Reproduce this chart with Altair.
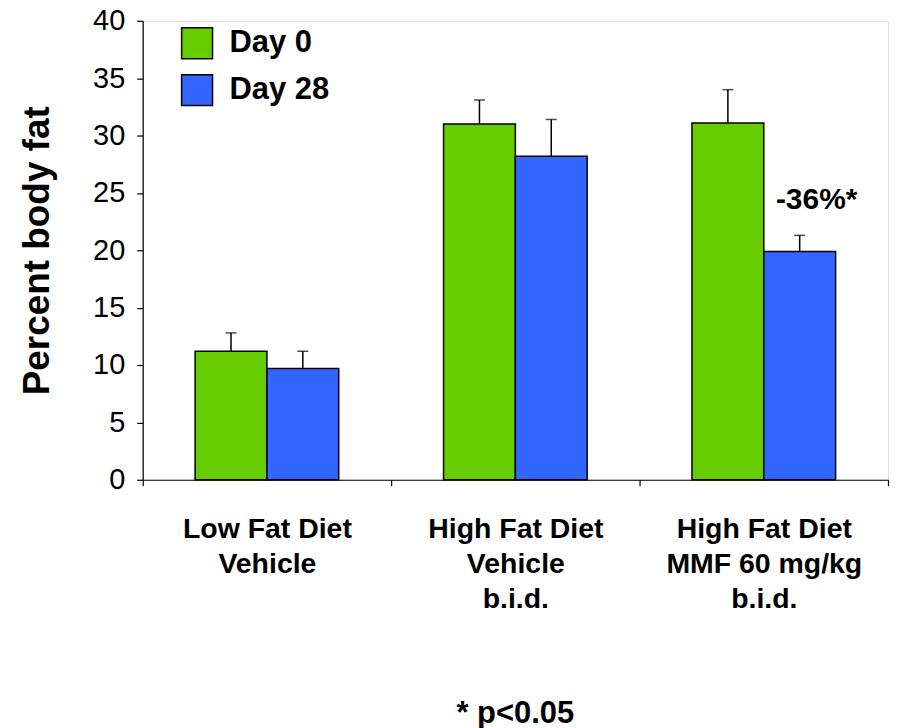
import altair as alt
import pandas as pd

groups = ["Low Fat Diet|Vehicle", "High Fat Diet|Vehicle|b.i.d.", "High Fat Diet|MMF 60 mg/kg|b.i.d."]
series = ["Day 0", "Day 28"]
day0 = [11.2, 31.0, 31.1]
day28 = [9.7, 28.2, 19.9]
day0_err = [1.6, 2.1, 2.9]
day28_err = [1.5, 3.2, 1.4]
annot_day28 = ["", "", "-36%*"]
colors = ["#66CC00", "#3366FF"]
footnote = "* p<0.05"

rows = []
for i, g in enumerate(groups):
    rows.append({"group": g, "series": series[0], "value": day0[i], "top": day0[i] + day0_err[i], "annot": ""})
    rows.append({"group": g, "series": series[1], "value": day28[i], "top": day28[i] + day28_err[i], "annot": annot_day28[i]})
df = pd.DataFrame(rows)

FONT = "Liberation Sans"

x_enc = alt.X(
    "group:N", sort=groups,
    scale=alt.Scale(paddingInner=0, paddingOuter=0),
    axis=alt.Axis(
        title=None, labelExpr="split(datum.label, '|')", tickBand="extent",
        labelAngle=0, labelFont=FONT, labelFontSize=28.5, labelFontWeight="bold",
        labelColor="black", labelLineHeight=35, labelPadding=29, labelBaseline="top",
        labelLimit=400,
        tickSize=6, tickColor="black", domainColor="black", tickWidth=1.2, domainWidth=1.2,
    ),
)
xo_enc = alt.XOffset("series:N", sort=series, scale=alt.Scale(paddingOuter=0.73, paddingInner=0))
y_scale = alt.Scale(domain=[0, 40])
y_axis = alt.Axis(
    title="Percent body fat", values=list(range(0, 41, 5)), grid=False,
    labelFont=FONT, labelFontSize=29, labelColor="black", labelPadding=12,
    titleFont=FONT, titleFontSize=37, titleFontWeight="bold", titleColor="black", titlePadding=36,
    tickSize=6, tickColor="black", domainColor="black", tickWidth=1.2, domainWidth=1.2,
)

base = alt.Chart(df)

bars = base.mark_bar(stroke="black", strokeWidth=1.5).encode(
    x=x_enc, xOffset=xo_enc,
    y=alt.Y("value:Q", scale=y_scale, axis=y_axis),
    color=alt.Color(
        "series:N", sort=series, scale=alt.Scale(domain=series, range=colors),
        legend=alt.Legend(
            title=None, orient="none", legendX=38, legendY=6, padding=0,
            symbolType="square", symbolSize=960,
            symbolStrokeColor="black", symbolStrokeWidth=1.5, labelFont=FONT, labelFontSize=31,
            labelFontWeight="bold", labelColor="black", labelOffset=16, rowPadding=10,
        ),
    ),
)

whisk = base.mark_rule(color="black", strokeWidth=1.5).encode(
    x=x_enc, xOffset=xo_enc,
    y=alt.Y("value:Q", scale=y_scale, axis=y_axis),
    y2="top:Q",
)

caps = base.mark_tick(color="black", size=11, thickness=1.5).encode(
    x=x_enc, xOffset=xo_enc,
    y=alt.Y("top:Q", scale=y_scale, axis=y_axis),
)

label = base.transform_filter("datum.annot != ''").mark_text(
    font=FONT, fontSize=30, fontWeight="bold", color="black", dx=17, dy=-52
).encode(
    x=x_enc, xOffset=xo_enc,
    y=alt.Y("value:Q", scale=y_scale, axis=y_axis),
    text="annot:N",
)

chart = alt.layer(whisk, caps, bars, label).properties(
    width=747, height=460,
    padding={"left": 135, "top": 12, "right": 5, "bottom": 260},
    autosize=alt.AutoSizeParams(type="none"),
    title=alt.TitleParams(
        footnote, orient="bottom", anchor="middle", frame="group", font=FONT,
        fontSize=31, fontWeight="bold", color="black", offset=86,
    ),
).configure_view(stroke=None).configure(background="white")

chart.save("out.html", embed_options={"renderer": "svg", "actions": False})
